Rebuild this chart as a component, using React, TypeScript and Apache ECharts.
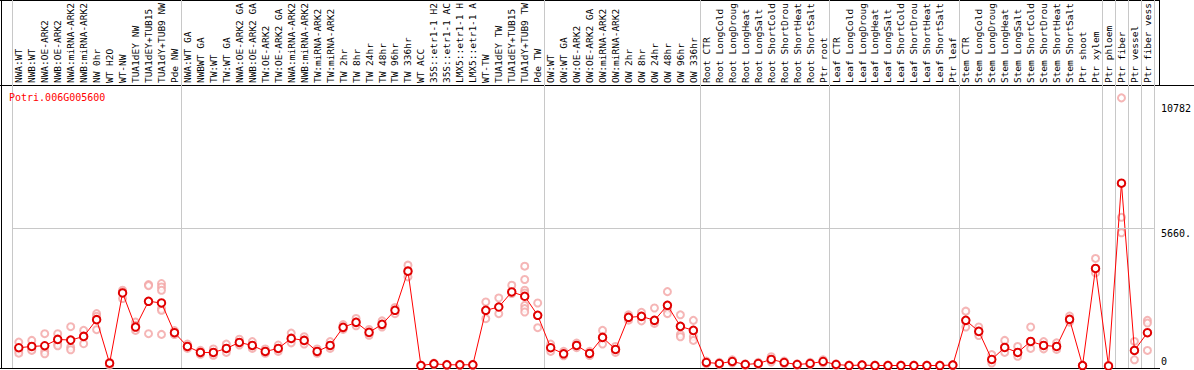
import React, { useEffect, useRef } from "react";
import * as echarts from "echarts";

const geneId = "Potri.006G005600";

const categories: string[] = [
  "NWA:WT", "NWB:WT", "NWA:OE-ARK2", "NWB:OE-ARK2", "NWA:miRNA-ARK2", "NWB:miRNA-ARK2", "NW 0hr", "WT H2O", "WT-NW", "TUA1dEY NW", "TUA1dEY+TUB15", "TUA1dY+TUB9 NW", "Pde NW",
  "NWA:WT GA", "NWBWT GA", "TW:WT", "TW:WT GA", "NWA:OE-ARK2 GA", "NWB:OE-ARK2 GA", "TW:OE-ARK2", "TW:OE-ARK2 GA", "NWA:miRNA-ARK2", "NWB:miRNA-ARK2", "TW:miRNA-ARK2", "TW:miRNA-ARK2", "TW 2hr", "TW 8hr", "TW 24hr", "TW 48hr", "TW 96hr", "TW 336hr", "WT ACC", "35S::etr1-1 H2", "35S::etr1-1 AC", "LMX5::etr1-1 H", "LMX5::etr1-1 A", "WT-TW", "TUA1dEY TW", "TUA1dEY+TUB15", "TUA1dY+TUB9 TW", "Pde TW",
  "OW:WT", "OW:WT GA", "OW:OE-ARK2", "OW:OE-ARK2 GA", "OW:miRNA-ARK2", "OW:miRNA-ARK2", "OW 2hr", "OW 8hr", "OW 24hr", "OW 48hr", "OW 96hr", "OW 336hr",
  "Root CTR", "Root LongCold", "Root LongDroug", "Root LongHeat", "Root LongSalt", "Root ShortCold", "Root ShortDrou", "Root ShortHeat", "Root ShortSalt", "Ptr root",
  "Leaf CTR", "Leaf LongCold", "Leaf LongDroug", "Leaf LongHeat", "Leaf LongSalt", "Leaf ShortCold", "Leaf ShortDrou", "Leaf ShortHeat", "Leaf ShortSalt", "Ptr leaf",
  "Stem CTR", "Stem LongCold", "Stem LongDroug", "Stem LongHeat", "Stem LongSalt", "Stem ShortCold", "Stem ShortDrou", "Stem ShortHeat", "Stem ShortSalt", "Ptr shoot", "Ptr xylem",
  "Ptr phloem", "Ptr fiber", "Ptr vessel", "Ptr fiber vess",
];

// indices of categories that start a new group (separator line on their left)
const groupStarts: number[] = [0, 13, 41, 53, 63, 73, 84, 85, 86, 87];

const means: number[] = [
  749, 803, 831, 1091, 1062, 1214, 1901, 115, 2997, 1597, 2655, 2585, 1366,
  803, 555, 555, 720, 967, 844, 597, 720, 1132, 1050, 597, 844, 1585, 1791, 1379, 1709, 2284, 3890, 20, 90, 50, 50, 50, 2284, 2420, 3038, 2861, 2079,
  749, 502, 844, 514, 1173, 679, 1996, 2037, 1873, 2490, 1626, 1461,
  144, 103, 185, 62, 103, 268, 144, 62, 103, 185,
  62, 20, 40, 20, 20, 20, 20, 20, 20, 40,
  1873, 1420, 268, 761, 555, 1008, 844, 803, 1914, 20, 4001,
  0, 7499, 638, 1366,
];

const replicates: number[][] = [
  [980, 638, 527], [1050, 680, 638], [1325, 609, 502], [1325, 914, 831], [1613, 774, 667], [1461, 1214, 914],
  [2148, 2037, 1490], [157, 90, 33], [3108, 3038, 2766], [1803, 1667, 1461], [3342, 3298, 1325],
  [3383, 3243, 3108, 2354, 2284, 1296], [1450, 1366, 1290],
  [900, 760, 720], [640, 520, 480], [700, 520, 440], [900, 700, 560], [1100, 950, 860], [1000, 800, 720],
  [700, 560, 520], [860, 700, 600], [1350, 1100, 950], [1200, 1050, 900], [700, 580, 520], [1000, 820, 720],
  [1700, 1560, 1500], [1950, 1800, 1650], [1500, 1380, 1260], [1850, 1700, 1600], [2400, 2284, 2148],
  [4137, 3890, 3655], [40, 20, 5], [120, 90, 60], [70, 50, 30], [70, 50, 30], [70, 50, 30],
  [2626, 2284, 1943], [2791, 2420, 2148], [3313, 3038, 2972], [4095, 3548, 3108, 2997, 2490, 2354, 2214],
  [2585, 2079, 1572],
  [900, 749, 600], [600, 502, 420], [940, 844, 750], [600, 514, 430], [1461, 1173, 900], [800, 679, 560],
  [2100, 1996, 1880], [2200, 2037, 1850], [2380, 1873, 1750], [3050, 2490, 2320, 2150], [2100, 1626, 1300, 1200],
  [1873, 1461, 1200, 1050],
  [200, 144, 90], [150, 103, 60], [250, 185, 120], [90, 62, 30], [150, 103, 60], [380, 268, 160], [200, 144, 90],
  [90, 62, 30], [150, 103, 60], [250, 185, 120],
  [90, 62, 30], [40, 20, 5], [60, 40, 20], [40, 20, 5], [40, 20, 5], [40, 20, 5], [40, 20, 5], [40, 20, 5],
  [40, 20, 5], [60, 40, 20],
  [2250, 1873, 1600], [1600, 1420, 1250], [470, 268, 120], [1050, 761, 560], [800, 555, 400], [1600, 1008, 720],
  [1000, 844, 700], [950, 803, 680], [2050, 1914, 1800], [40, 20, 5], [4412, 4001, 3820],
  [30, 0, 10], [10998, 6100, 5466], [1008, 638, 255], [1873, 1762, 638],
];

const upperTicks: number[] = [5660, 10782];
const zeroTick: number[] = [0];

const FONT = "'DejaVu Sans Mono', 'Liberation Mono', monospace";

export default function App() {
  const ref = useRef<HTMLDivElement>(null);

  useEffect(() => {
    if (!ref.current) return;
    const chart = echarts.init(ref.current, undefined, { renderer: "svg" });

    const repPoints: [number, number][] = [];
    replicates.forEach((arr, i) => arr.forEach((v) => repPoints.push([i, v])));

    const yMin = -82;
    const yMax = 15011;

    const option: any = {
      animation: false,
      backgroundColor: "#ffffff",
      title: {
        text: geneId,
        left: 9,
        top: 92,
        padding: 0,
        textStyle: { color: "#ff0000", fontSize: 10, fontWeight: "normal", fontFamily: FONT },
      },
      grid: { left: 12.3, top: 0, width: 1144, height: 368 },
      xAxis: {
        type: "category",
        data: categories,
        position: "top",
        offset: -85,
        boundaryGap: true,
        axisLine: { show: false },
        axisTick: { show: false },
        axisLabel: {
          interval: 0,
          rotate: 90,
          margin: 2,
          color: "#000",
          fontSize: 9.5,
          fontFamily: FONT,
        },
        splitLine: {
          show: true,
          interval: (i: number) => groupStarts.includes(i),
          lineStyle: { color: "#c8c8c8", width: 1 },
        },
      },
      yAxis: [
        {
          type: "value",
          position: "right",
          min: yMin,
          max: yMax,
          axisLine: { show: false },
          axisTick: { show: false },
          splitLine: { show: false },
          axisLabel: {
            customValues: upperTicks,
            margin: 7,
            verticalAlign: "top",
            color: "#000",
            fontSize: 10,
            fontFamily: FONT,
            formatter: (v: number) => (v === 5660 ? "5660." : String(v)),
          },
        },
        {
          type: "value",
          position: "right",
          min: yMin,
          max: yMax,
          axisLine: { show: false },
          axisTick: { show: false },
          splitLine: { show: false },
          axisLabel: {
            customValues: zeroTick,
            margin: 7,
            verticalAlign: "bottom",
            color: "#000",
            fontSize: 10,
            fontFamily: FONT,
          },
        },
      ],
      series: [
        {
          type: "scatter",
          yAxisIndex: 0,
          data: repPoints,
          symbol: "emptyCircle",
          symbolSize: 7,
          itemStyle: { color: "#f2a4a4", borderWidth: 1.1 },
          z: 2,
          silent: true,
          markLine: {
            silent: true,
            symbol: "none",
            label: { show: false },
            lineStyle: { color: "#c8c8c8", type: "solid", width: 1 },
            data: [{ yAxis: upperTicks[0] }],
          },
        },
        {
          type: "line",
          yAxisIndex: 0,
          data: means,
          symbol: "emptyCircle",
          symbolSize: 7.5,
          lineStyle: { color: "#ff0000", width: 1 },
          itemStyle: { color: "#e00000", borderWidth: 1.3 },
          z: 3,
          silent: true,
        },
      ],
      graphic: [
        { type: "line", shape: { x1: 1.5, y1: 0, x2: 1.5, y2: 368 }, style: { stroke: "#000", lineWidth: 1 }, silent: true },
        { type: "line", shape: { x1: 0, y1: 368.5, x2: 1160, y2: 368.5 }, style: { stroke: "#000", lineWidth: 1 }, silent: true },
        { type: "line", shape: { x1: 0, y1: 85.5, x2: 1194, y2: 85.5 }, style: { stroke: "#000", lineWidth: 1 }, silent: true },
        { type: "line", shape: { x1: 0, y1: 0.5, x2: 1159, y2: 0.5 }, style: { stroke: "#000", lineWidth: 1 }, silent: true },
        { type: "line", shape: { x1: 1159.5, y1: 0, x2: 1159.5, y2: 85 }, style: { stroke: "#000", lineWidth: 1 }, silent: true },
      ],
    };

    chart.setOption(option);
    return () => chart.dispose();
  }, []);

  return (
    <div
      ref={ref}
      style={{ position: "fixed", left: 0, top: 0, width: 1194, height: 370, background: "#fff" }}
    />
  );
}
